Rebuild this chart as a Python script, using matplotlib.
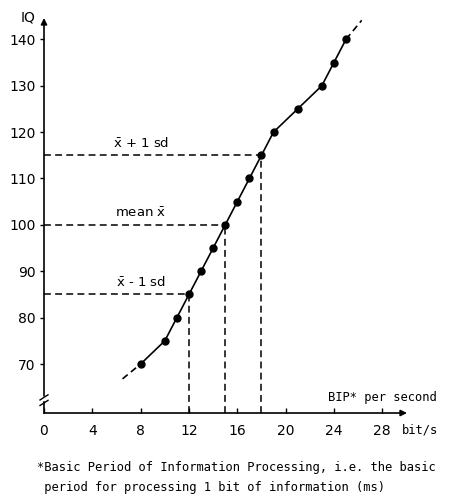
import matplotlib.pyplot as plt

# BIP per second vs IQ
bip = [8, 10, 11, 12, 13, 14, 15, 16, 17, 18, 19, 21, 23, 24, 25]
iq = [70, 75, 80, 85, 90, 95, 100, 105, 110, 115, 120, 125, 130, 135, 140]
ext_low = ([6.5, 8], [66.8, 70])
ext_high = ([25, 26.3], [140, 144.1])

# mean and +/- 1 sd
ref_bip = [12, 15, 18]
ref_iq = [85, 100, 115]
ref_labels = [r'$\bar{\mathsf{x}}$ - 1 sd', r'mean $\bar{\mathsf{x}}$', r'$\bar{\mathsf{x}}$ + 1 sd']

xticks = [0, 4, 8, 12, 16, 20, 24, 28]
yticks = [70, 80, 90, 100, 110, 120, 130, 140]

W, H = 457, 498
fig = plt.figure(figsize=(W/100, H/100), dpi=100)
ax = fig.add_axes([44/W, (H-413)/H, (407-44)/W, (413-18)/H])
ax.set_xlim(0, 30.05)
ax.set_ylim(59.44, 144.6)
for s in ax.spines.values():
    s.set_visible(False)

ax.plot(bip, iq, color='black', lw=1.2, marker='o', ms=5, zorder=3)
ax.plot(*ext_low, color='black', lw=1.2, dashes=(4, 2.5))
ax.plot(*ext_high, color='black', lw=1.2, dashes=(4, 2.5))

for bx, yq, lab in zip(ref_bip, ref_iq, ref_labels):
    ax.plot([0, bx], [yq, yq], color='black', lw=1.1, dashes=(4.5, 2.8), zorder=2)
    ax.plot([bx, bx], [59.44, yq], color='black', lw=1.1, dashes=(4.5, 2.8), zorder=2)
    ax.text(8.0, yq + 2.6, lab, fontsize=9.5, ha='center', va='center')

ax.set_xticks(xticks)
ax.set_yticks(yticks)
ax.tick_params(axis='x', direction='in', length=3.5, width=1, pad=8, labelsize=10)
ax.tick_params(axis='y', direction='out', length=3, width=1, pad=3, labelsize=10)

# axes with arrows and break
ax.annotate('', xy=(1.0, 0), xytext=(0, 0), xycoords='axes fraction',
            arrowprops=dict(arrowstyle='-|>', color='black', lw=1.2,
                            mutation_scale=9, shrinkA=0, shrinkB=0))
ax.annotate('', xy=(0, 1.0), xytext=(0, 0.043), xycoords='axes fraction',
            arrowprops=dict(arrowstyle='-|>', color='black', lw=1.2,
                            mutation_scale=9, shrinkA=0, shrinkB=0))
ax.plot([0, 0], [0, 0.027], transform=ax.transAxes, color='black', lw=1.2, clip_on=False)
ax.plot([-0.011, 0.011], [0.033, 0.046], transform=ax.transAxes, color='black', lw=1, clip_on=False)
ax.plot([-0.011, 0.011], [0.019, 0.032], transform=ax.transAxes, color='black', lw=1, clip_on=False)

mono = 'DejaVu Sans Mono'
fig.text(28/W, 1 - 17.5/H, 'IQ', fontsize=10, ha='center', va='center')
fig.text(437/W, 1 - 398/H, 'BIP* per second', family=mono, fontsize=8.7, ha='right', va='center')
fig.text(438/W, 1 - 430/H, 'bit/s', family=mono, fontsize=8.7, ha='right', va='center')
fig.text(37/W, 1 - 467/H, '*Basic Period of Information Processing, i.e. the basic',
         family=mono, fontsize=8.7, ha='left', va='center')
fig.text(37/W, 1 - 487/H, ' period for processing 1 bit of information (ms)',
         family=mono, fontsize=8.7, ha='left', va='center')

fig.savefig('out.png', dpi=100)
